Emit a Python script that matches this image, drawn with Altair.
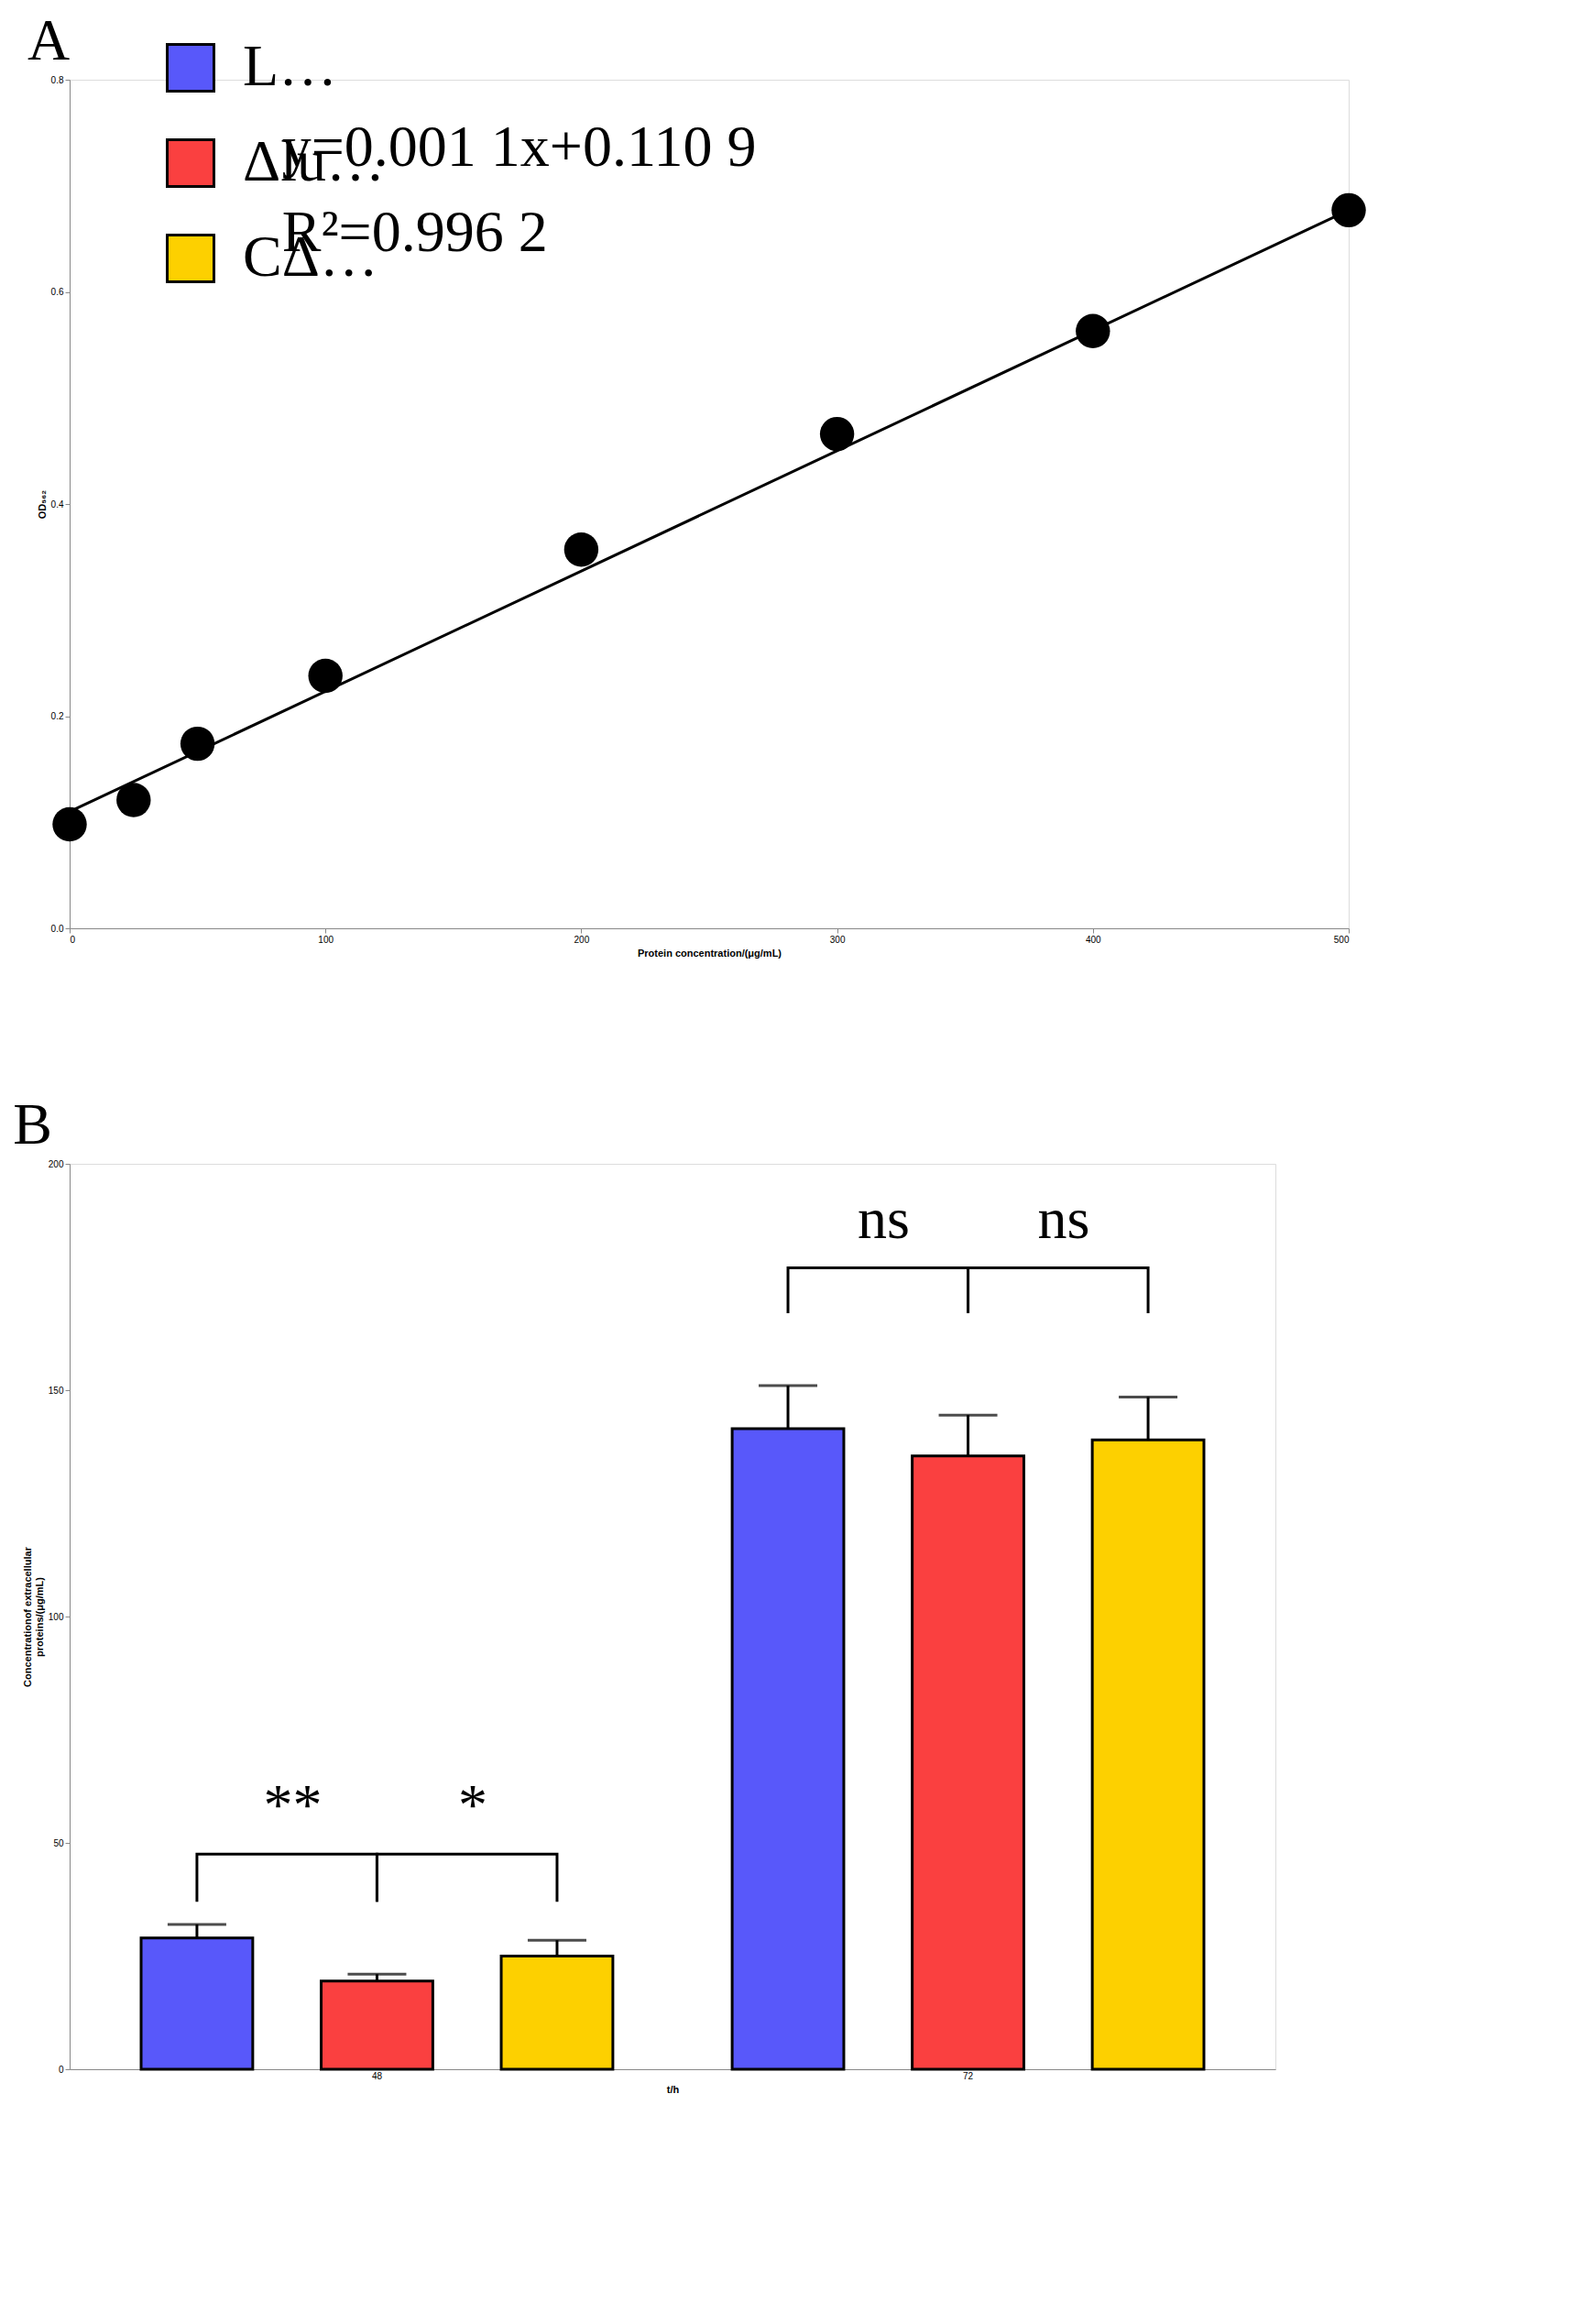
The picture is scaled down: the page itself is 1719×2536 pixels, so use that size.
import altair as alt
import pandas as pd

conc = [0, 25, 50, 100, 200, 300, 400, 500]
od = [0.098, 0.121, 0.174, 0.238, 0.357, 0.466, 0.563, 0.677]
fit_x = [0, 500]
fit_y = [0.110, 0.677]
eq_text = ["y=0.001 1x+0.110 9", "R²=0.996 2"]
eq_y = [0.735, 0.655]

times = ["48", "72"]
strains = ["LM19112-pSET2", "ΔluxS-pSET2", "CΔluxS"]
colors = ["#5858fa", "#fa4040", "#fdd000"]
means = {"48": [29, 19.5, 25], "72": [141.5, 135.5, 139]}
errs = {"48": [32, 21, 28.5], "72": [151, 144.5, 148.5]}
sig = {"48": ["**", "*"], "72": ["ns", "ns"]}
br_top = {"48": 47.5, "72": 177}
br_leg = {"48": 37, "72": 167}

F = "Liberation Serif"
FS = 64

dA = pd.DataFrame({"x": conc, "y": od})
dfit = pd.DataFrame({"x": fit_x, "y": fit_y})
deq = pd.DataFrame({"x": [83, 83], "y": eq_y, "t": eq_text})

xA = alt.X("x:Q", scale=alt.Scale(domain=[0, 500], nice=False),
           axis=alt.Axis(values=[0, 100, 200, 300, 400, 500], grid=False),
           title="Protein concentration/(μg/mL)")
yA = alt.Y("y:Q", scale=alt.Scale(domain=[0, 0.8], nice=False),
           axis=alt.Axis(values=[0, 0.2, 0.4, 0.6, 0.8], format=".1f", grid=False),
           title="OD₅₆₂")

pA = (alt.Chart(dfit).mark_line(color="black", strokeWidth=3).encode(x=xA, y=yA)
      + alt.Chart(dA).mark_circle(color="black", size=1400, opacity=1).encode(x="x:Q", y="y:Q")
      + alt.Chart(deq).mark_text(font=F, fontSize=FS, align="left", color="black").encode(
          x="x:Q", y="y:Q", text="t:N")
      ).properties(width=1396, height=926,
                   title=alt.TitleParams("A", anchor="start", frame="bounds", font=F,
                                         fontSize=FS, fontWeight="normal", dx=-10))

rows, brrows, sigrows = [], [], []
for t in times:
    for i, s in enumerate(strains):
        rows.append({"t": t, "s": s, "v": means[t][i], "e": errs[t][i]})
    for j in range(2):
        a, b = strains[j], strains[j + 1]
        bid = t + str(j)
        for k, (s, v) in enumerate([(a, br_leg[t]), (a, br_top[t]), (b, br_top[t]), (b, br_leg[t])]):
            brrows.append({"t": t, "s": s, "v": v, "id": bid, "o": k})
        sigrows.append({"t": t, "s": b, "v": br_top[t] + 4, "lab": sig[t][j]})
dB = pd.DataFrame(rows)
dbr = pd.DataFrame(brrows)
dsig = pd.DataFrame(sigrows)

xB = alt.X("t:N", scale=alt.Scale(paddingInner=0.08, paddingOuter=0.06),
           axis=alt.Axis(labelAngle=0, ticks=False), title="t/h")
xo = alt.XOffset("s:N", sort=strains, scale=alt.Scale(paddingInner=0.38, paddingOuter=0.2))
yB = alt.Y("v:Q", scale=alt.Scale(domain=[0, 200], nice=False),
           axis=alt.Axis(values=[0, 50, 100, 150, 200], grid=False),
           title=["Concentrationof extracellular", "proteins/(μg/mL)"])
col = alt.Color("s:N", sort=strains, scale=alt.Scale(domain=strains, range=colors),
                legend=alt.Legend(title=None, orient="none", legendX=100, legendY=-45, symbolType="square",
                                  symbolSize=2600, symbolStrokeColor="black", symbolStrokeWidth=3,
                                  labelFont=F, labelFontSize=FS, rowPadding=40, labelOffset=25))

bars = alt.Chart(dB).mark_bar(stroke="black", strokeWidth=3).encode(x=xB, xOffset=xo, y=yB, color=col)
erule = alt.Chart(dB).mark_rule(color="black", strokeWidth=3).encode(x="t:N", xOffset=xo, y="v:Q", y2="e:Q")
ecap = alt.Chart(dB).mark_tick(color="black", thickness=3, size=64, orient="horizontal").encode(
    x="t:N", xOffset=xo, y="e:Q")
brk = alt.Chart(dbr).mark_line(color="black", strokeWidth=3).encode(
    x="t:N", xOffset=alt.XOffset("s:N", sort=strains), y="v:Q", detail="id:N", order="o:Q")
stx = alt.Chart(dsig).mark_text(font=F, fontSize=FS, baseline="bottom", dx=-92, color="black").encode(
    x="t:N", xOffset=alt.XOffset("s:N", sort=strains), y="v:Q", text="lab:N")

pB = (bars + erule + ecap + brk + stx).properties(
    width=1316, height=988,
    title=alt.TitleParams("B", anchor="start", frame="bounds", font=F,
                          fontSize=FS, fontWeight="normal", dx=-10))

chart = alt.vconcat(pA, pB, spacing=150).configure_view(stroke=None).configure_axis(
    labelFont=F, titleFont=F, labelFontSize=FS, titleFontSize=FS, titleFontWeight="normal",
    labelColor="black", titleColor="black", domainColor="black", tickColor="black",
    domainWidth=3, tickWidth=3, tickSize=18, labelPadding=8
).configure_axisY(titleFontStyle="italic").configure_axisX(titleFontStyle="normal").configure(
    background="white", padding=5)

chart.save("out.html", embed_options={"renderer": "svg", "actions": False})
